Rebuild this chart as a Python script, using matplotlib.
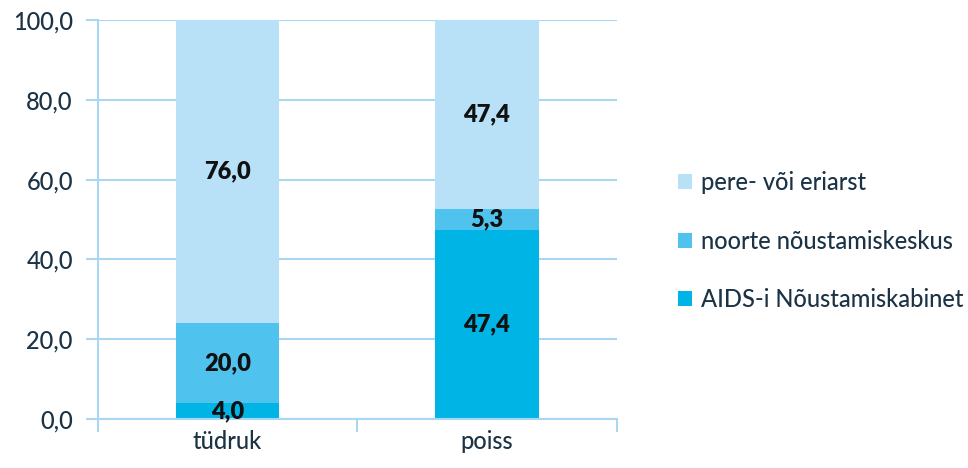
import matplotlib
matplotlib.use("Agg")
import matplotlib.pyplot as plt
import numpy as np

categories = ["tüdruk", "poiss"]
series_names = ["AIDS-i Nõustamiskabinet", "noorte nõustamiskeskus", "pere- või eriarst"]
aids = [4.0, 47.4]
noorte = [20.0, 5.3]
pere = [76.0, 47.4]
yticks = [0, 20, 40, 60, 80, 100]

colors = ["#00b5e6", "#4fc3ee", "#b8e1f7"]
text_color = "#1b3345"
grid_color = "#a9d6f0"

plt.rcParams['font.family'] = ['Lato', 'DejaVu Sans']

fig = plt.figure(figsize=(9.68, 4.68), dpi=100)
ax = fig.add_axes([0.101, 0.105, 0.536, 0.852])

x = np.arange(len(categories))
bottom = np.zeros(len(categories))
handles = []
for vals, name, c in zip([aids, noorte, pere], series_names, colors):
    vals = np.array(vals)
    b = ax.bar(x, vals, width=0.4, bottom=bottom, color=c, label=name, zorder=2)
    handles.append(b)
    for xi, v, bt in zip(x, vals, bottom):
        ax.text(xi, bt + v / 2, f"{v:.1f}".replace(".", ","), ha="center", va="center",
                fontsize=17, fontweight=800, color="#111111", zorder=3)
    bottom += vals

ax.set_xlim(-0.5, 1.5)
ax.set_ylim(0, 100)
ax.set_yticks(yticks)
ax.set_yticklabels([f"{t:.1f}".replace(".", ",") for t in yticks], fontsize=17,
                   color=text_color, fontweight=500)
ax.set_xticks(x)
ax.set_xticklabels(categories, fontsize=17, color=text_color, fontweight=500)
ax.tick_params(axis="x", length=0, pad=8)
ax.tick_params(axis="y", length=9, color=grid_color, width=1.5, pad=9)
ax.set_xticks([-0.5, 0.5, 1.5], minor=True)
ax.tick_params(axis="x", which="minor", length=9, color=grid_color, width=1.5)

ax.yaxis.grid(True, color=grid_color, linewidth=1.5, zorder=0)
ax.set_axisbelow(True)
for s in ["top", "right"]:
    ax.spines[s].set_visible(False)
ax.spines["left"].set_color(grid_color)
ax.spines["left"].set_linewidth(1.5)
ax.spines["bottom"].set_color(grid_color)
ax.spines["bottom"].set_linewidth(1.5)

leg = fig.legend(handles[::-1], series_names[::-1], loc="center left",
                 bbox_to_anchor=(0.678, 0.485), frameon=False,
                 prop={"family": ["Lato", "DejaVu Sans"], "size": 17, "weight": 500},
                 handlelength=0.6, handleheight=0.6, handletextpad=0.4,
                 labelspacing=1.5)
for t in leg.get_texts():
    t.set_color(text_color)

fig.savefig("out.png", dpi=100)
